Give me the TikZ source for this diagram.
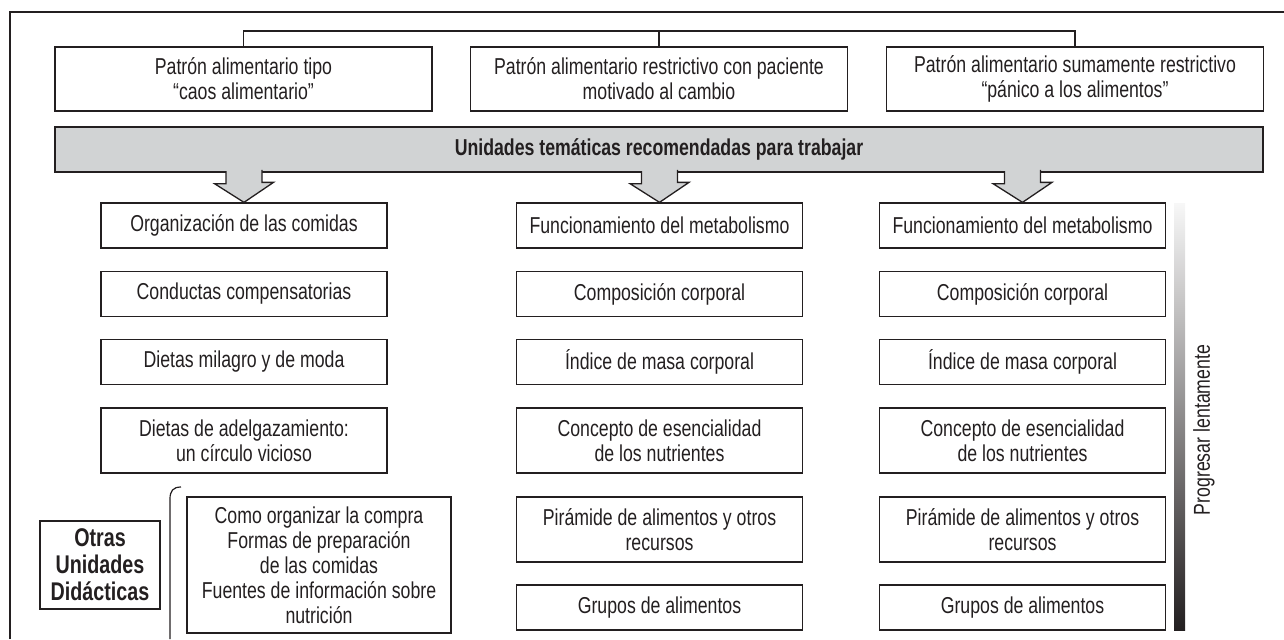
\documentclass[tikz,border=0pt]{standalone}
\usepackage{fontspec}
\setmainfont{Liberation Sans}[FakeStretch=0.77]
\newfontfamily\boldcond{Liberation Sans Bold}[FakeStretch=0.77]
\usetikzlibrary{shadings}

\definecolor{ink}{HTML}{231F20}
\definecolor{bandgray}{HTML}{D1D3D4}

\tikzstyle{frame}=[draw=ink,line width=1.1pt]
\tikzstyle{link}=[draw=ink,line width=0.6pt]
\tikzstyle{box}=[draw=ink,line width=0.65pt,text=ink,align=center,inner sep=0pt]
\tikzstyle{topbox}=[box,minimum width=188.5pt,minimum height=32pt]
\tikzstyle{colbox}=[box,minimum width=143pt,minimum height=22.5pt]
\tikzstyle{tallbox}=[colbox,minimum height=32.5pt]
\tikzstyle{band}=[box,fill=bandgray,minimum width=604pt,minimum height=22.5pt]
\tikzstyle{arrowfill}=[draw=ink,line width=0.65pt,fill=bandgray]

\begin{document}
\begin{tikzpicture}[x=0.5pt,y=-0.5pt,font=\fontsize{11.5}{12.5}\selectfont]

   \useasboundingbox (0,0) rectangle (1284,639);

   % Outer frame

   \draw[frame] (10,639) -- (10,12) -- (1284,12);

   % Eating patterns

   \node[topbox] (t1) at (243.5,79) {Patrón alimentario tipo\\“caos alimentario”};
   \node[topbox] (t2) at (659,79) {Patrón alimentario restrictivo con paciente\\motivado al cambio};
   \node[topbox] (t3) at (1075,79) {Patrón alimentario sumamente restrictivo\\“pánico a los alimentos”};

   \coordinate (bus) at (659,31);
   \draw[link] (t1.north) |- (bus) -| (t3.north);
   \draw[link] (t2.north) -- (bus);

   % Banner

   \node[band] (bar) at (659,149.5) {\textbf{Unidades temáticas recomendadas para trabajar}};

   % Left column

   \node[colbox] (l1) at (244,225.5) {Organización de las comidas};
   \node[colbox] (l2) at (244,294) {Conductas compensatorias};
   \node[colbox] (l3) at (244,362) {Dietas milagro y de moda};
   \node[tallbox] (l4) at (244,440.5) {Dietas de adelgazamiento:\\un círculo vicioso};

   \node[box,minimum width=132pt,minimum height=68pt] (lx) at (319,565)
      {Como organizar la compra\\Formas de preparación\\de las comidas\\Fuentes de información sobre\\nutrición};
   \node[box,minimum width=60pt,minimum height=44pt,font=\boldcond\fontsize{12.8}{13.5}\selectfont] (lo) at (100,565)
      {Otras\\Unidades\\Didácticas};

   \draw[link] (181,487) .. controls (173,487) and (170,491) .. (170,499) -- (170,639);

   % Middle column

   \node[colbox] (m1) at (659.5,225.5) {Funcionamiento del metabolismo};
   \node[colbox] (m2) at (659.5,294) {Composición corporal};
   \node[colbox] (m3) at (659.5,362) {Índice de masa corporal};
   \node[tallbox] (m4) at (659.5,440.5) {Concepto de esencialidad\\de los nutrientes};
   \node[tallbox] (m5) at (659.5,529.5) {Pirámide de alimentos y otros\\recursos};
   \node[colbox] (m6) at (659.5,607.5) {Grupos de alimentos};

   % Right column

   \node[colbox] (r1) at (1022.5,225.5) {Funcionamiento del metabolismo};
   \node[colbox] (r2) at (1022.5,294) {Composición corporal};
   \node[colbox] (r3) at (1022.5,362) {Índice de masa corporal};
   \node[tallbox] (r4) at (1022.5,440.5) {Concepto de esencialidad\\de los nutrientes};
   \node[tallbox] (r5) at (1022.5,529.5) {Pirámide de alimentos y otros\\recursos};
   \node[colbox] (r6) at (1022.5,607.5) {Grupos de alimentos};

   % Block arrows

   \foreach \c in {l1,m1,r1}
      \filldraw[arrowfill] (bar.south -| \c.north) ++(-18,-1.5) -- ++(0,12.5)
         -- ++(-11.5,0) -- (\c.north) -- ++(29.5,-20) -- ++(-11.5,0) -- ++(0,-12.5);

   % Progress bar

   \shade[top color=black!3,bottom color=ink] (1174,203) rectangle (1185,630);
   \node[rotate=90,text=ink] (prog) at (1204,430) {Progresar lentamente};

\end{tikzpicture}
\end{document}
